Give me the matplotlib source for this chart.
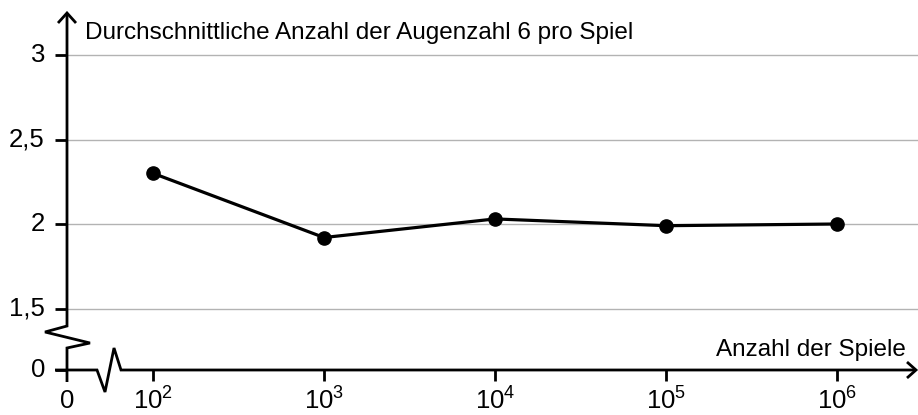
import matplotlib
matplotlib.use("Agg")
import matplotlib.pyplot as plt
import numpy as np

# data
games = [1e2, 1e3, 1e4, 1e5, 1e6]
avg_sixes = [2.30, 1.92, 2.03, 1.99, 2.00]
y_ticks = [1.5, 2.0, 2.5, 3.0]
y_tick_labels = ["1,5", "2", "2,5", "3"]
x_tick_labels = ["$10^{2}$", "$10^{3}$", "$10^{4}$", "$10^{5}$", "$10^{6}$"]

plt.rcParams['font.family'] = ['Liberation Sans', 'DejaVu Sans']
plt.rcParams['mathtext.fontset'] = 'custom'
plt.rcParams['mathtext.rm'] = 'Liberation Sans'
plt.rcParams['mathtext.it'] = 'Liberation Sans'

FS = 17.5
TICK_FS = 18.5

# layout: axes fill the figure, data coords chosen so the plot sits like the original
def xd(px):
    return 2 + (px - 153) / 171.0

def yd(py):
    return 3 - (py - 55) / 169.0

X0 = xd(67)    # where "0" sits on the broken x axis
Y0 = yd(370)   # where "0" sits on the broken y axis

fig = plt.figure(figsize=(9.18, 4.15), dpi=100)
ax = fig.add_axes([0, 0, 1, 1])
ax.set_xlim(xd(0), xd(918))
ax.set_ylim(yd(415), yd(0))
ax.axis('off')

k = dict(color='black', lw=2, solid_capstyle='butt', solid_joinstyle='miter')

# grid lines
for v in y_ticks:
    ax.plot([X0, xd(918)], [v, v], color='#b3b3b3', lw=1, zorder=1)

# y axis with break
ax.plot([X0, X0, xd(90), xd(45), X0, X0],
        [yd(382), yd(348), yd(343), yd(332), yd(326), yd(13)], **k)
ax.plot([xd(58), X0, xd(76)], [yd(23), yd(13), yd(23)], **k)

# x axis with break
ax.plot([xd(55), xd(97), xd(105), xd(114), xd(121), xd(916)],
        [Y0, Y0, yd(392), yd(348), Y0, Y0], **k)
ax.plot([xd(907), xd(916), xd(907)], [yd(362), Y0, yd(378)], **k)

# y ticks
for v, lab in zip([Y0] + y_ticks, ["0"] + y_tick_labels):
    ax.plot([xd(55), X0], [v, v], **k)
    ax.text(xd(45), v, lab, ha='right', va='center', fontsize=TICK_FS)

# x ticks
xs = np.log10(games)
ax.text(X0, yd(401), "0", ha='center', va='center', fontsize=TICK_FS)
for x, lab in zip(xs, x_tick_labels):
    ax.plot([x, x], [Y0, yd(381)], **k)
    ax.text(x, yd(401), lab, ha='center', va='center', fontsize=TICK_FS)

# data
ax.plot(xs, avg_sixes, color='black', lw=2.3, marker='o', markersize=9.5, zorder=5)

ax.text(xd(85), yd(33), "Durchschnittliche Anzahl der Augenzahl 6 pro Spiel",
        ha='left', va='center', fontsize=FS)
ax.text(xd(906), yd(350), "Anzahl der Spiele", ha='right', va='center', fontsize=FS)

fig.savefig("out.png", dpi=100)
